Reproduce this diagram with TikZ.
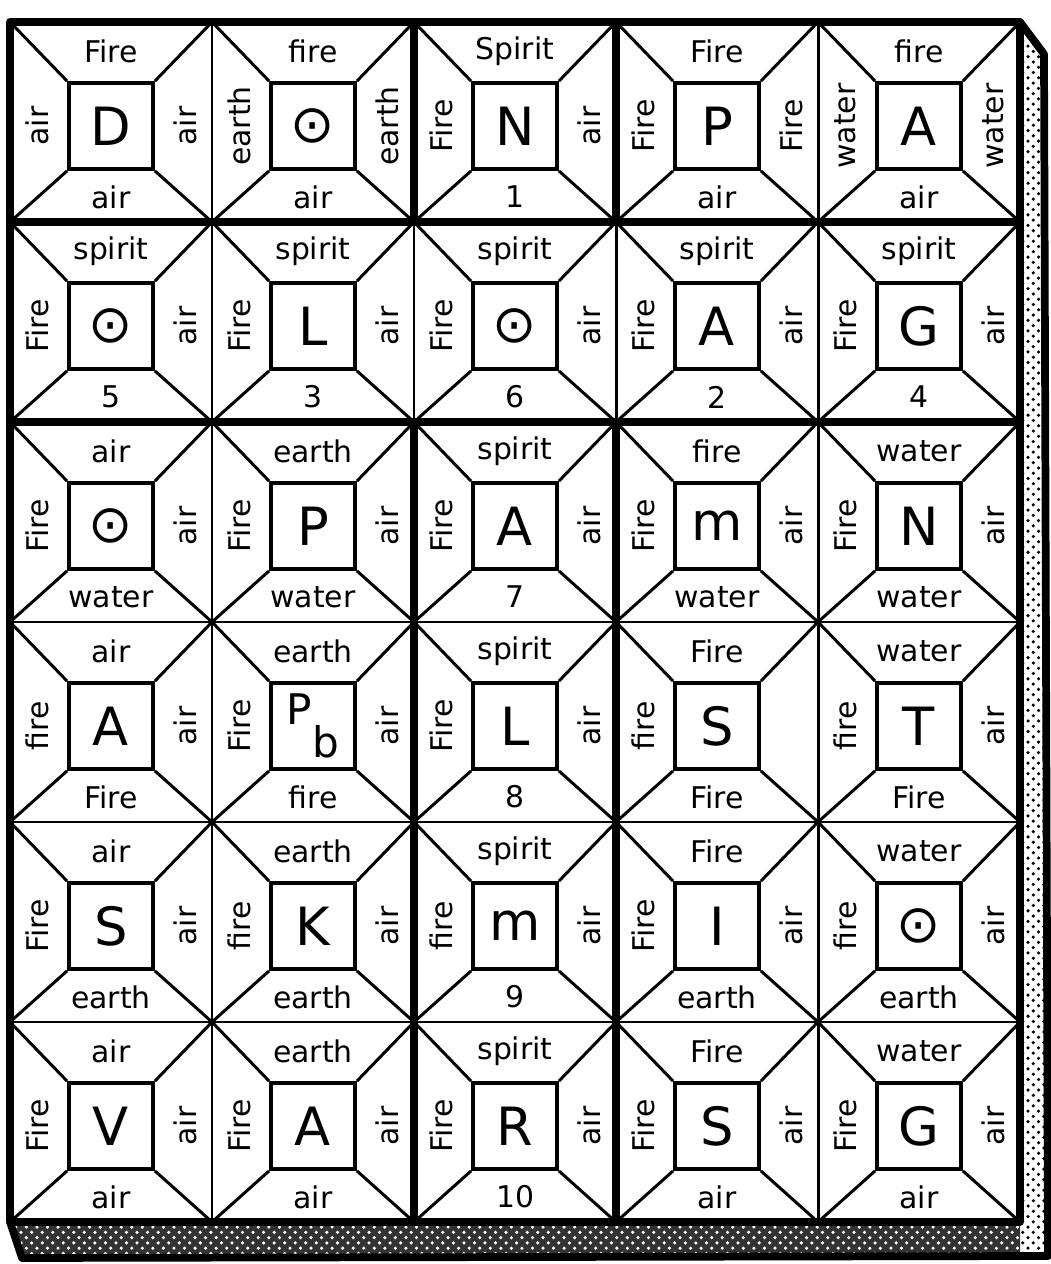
\documentclass[tikz,border=0pt]{standalone}
\usepackage{fontspec}
\setmainfont{DejaVu Sans}
\usepackage{tikz}
\usetikzlibrary{patterns,positioning,calc}
\tikzset{
  cellline/.style={line width=0.85pt},
  groupline/.style={line width=2.2pt, line cap=round, line join=round},
  sq/.style={draw, line width=1.1pt, fill=white, minimum width=8.4mm, minimum height=8.6mm, inner sep=0pt, font=\fontsize{15}{15}\selectfont},
  elem/.style={font=\fontsize{8.5}{10}\selectfont, inner sep=0pt},
  elemside/.style={elem, rotate=90},
}
% column, row, top, left, right, bottom, centre
\newcommand{\tablet}[7]{%
  \coordinate (m-#1-#2) at ({2.02*(#1-0.5)},{12-2*(#2-0.5)});
  \node[sq] (sq-#1-#2) at ([yshift=-0.4mm]m-#1-#2) {#7};
  \draw[cellline] (sq-#1-#2.north west) -- ($(m-#1-#2)+(-1.01,1)$);
  \draw[cellline] (sq-#1-#2.north east) -- ($(m-#1-#2)+(1.01,1)$);
  \draw[cellline] (sq-#1-#2.south west) -- ($(m-#1-#2)+(-1.01,-1)$);
  \draw[cellline] (sq-#1-#2.south east) -- ($(m-#1-#2)+(1.01,-1)$);
  \node[elem] (t-#1-#2) at ($(sq-#1-#2.north)+(0,0.30)$) {#3};
  \node[elemside] (l-#1-#2) at ($(sq-#1-#2.west)+(-0.30,0)$) {#4};
  \node[elemside] (r-#1-#2) at ($(sq-#1-#2.east)+(0.30,0)$) {#5};
  \node[elem] (b-#1-#2) at ($(sq-#1-#2.south)+(0,-0.26)$) {#6};
}

\begin{document}
\begin{tikzpicture}
\useasboundingbox (-0.10,-0.42) rectangle (10.40,12.22);

% shadow
\fill[pattern=crosshatch dots] (10.1,12) -- (10.34,11.68) -- (10.38,-0.34) -- (10.1,-0.34) -- cycle;
\fill[black!80] (0,0) -- (0.12,-0.36) -- (10.1,-0.34) -- (10.1,0) -- cycle;
\fill[pattern=crosshatch dots, pattern color=white] (0,0) -- (0.12,-0.36) -- (10.1,-0.34) -- (10.1,0) -- cycle;
\draw[groupline] (10.1,12) -- (10.34,11.68) -- (10.38,-0.34) -- (0.12,-0.36) -- (0,0);

\foreach \c in {1,...,4}
  \draw[cellline] ({2.02*\c},0) -- ({2.02*\c},12);
\foreach \r in {1,...,5}
  \draw[cellline] (0,{2*\r}) -- (10.1,{2*\r});

% row 1
\tablet{1}{1}{Fire}{air}{air}{air}{D}
\tablet{2}{1}{fire}{earth}{earth}{air}{⊙}
\tablet{3}{1}{Spirit}{Fire}{air}{1}{N}
\tablet{4}{1}{Fire}{Fire}{Fire}{air}{P}
\tablet{5}{1}{fire}{water}{water}{air}{A}
% row 2
\tablet{1}{2}{spirit}{Fire}{air}{5}{⊙}
\tablet{2}{2}{spirit}{Fire}{air}{3}{L}
\tablet{3}{2}{spirit}{Fire}{air}{6}{⊙}
\tablet{4}{2}{spirit}{Fire}{air}{2}{A}
\tablet{5}{2}{spirit}{Fire}{air}{4}{G}
% row 3
\tablet{1}{3}{air}{Fire}{air}{water}{⊙}
\tablet{2}{3}{earth}{Fire}{air}{water}{P}
\tablet{3}{3}{spirit}{Fire}{air}{7}{A}
\tablet{4}{3}{fire}{Fire}{air}{water}{m}
\tablet{5}{3}{water}{Fire}{air}{water}{N}
% row 4
\tablet{1}{4}{air}{fire}{air}{Fire}{A}
\tablet{2}{4}{earth}{Fire}{air}{fire}{\fontsize{12}{12}\selectfont P\raisebox{-0.8em}{b}}
\tablet{3}{4}{spirit}{Fire}{air}{8}{L}
\tablet{4}{4}{Fire}{fire}{}{Fire}{S}
\tablet{5}{4}{water}{fire}{air}{Fire}{T}
% row 5
\tablet{1}{5}{air}{Fire}{air}{earth}{S}
\tablet{2}{5}{earth}{fire}{air}{earth}{K}
\tablet{3}{5}{spirit}{fire}{air}{9}{m}
\tablet{4}{5}{Fire}{Fire}{air}{earth}{I}
\tablet{5}{5}{water}{fire}{air}{earth}{⊙}
% row 6
\tablet{1}{6}{air}{Fire}{air}{air}{V}
\tablet{2}{6}{earth}{Fire}{air}{air}{A}
\tablet{3}{6}{spirit}{Fire}{air}{10}{R}
\tablet{4}{6}{Fire}{Fire}{air}{air}{S}
\tablet{5}{6}{water}{Fire}{air}{air}{G}

\draw[groupline] (0,0) rectangle (10.1,12);
\draw[groupline] (0,10) -- (10.1,10);
\draw[groupline] (0,8) -- (10.1,8);
\draw[groupline] (4.04,12) -- (4.04,10);
\draw[groupline] (6.06,12) -- (6.06,10);
\draw[groupline] (4.04,8) -- (4.04,0);
\draw[groupline] (6.06,8) -- (6.06,0);
\end{tikzpicture}
\end{document}
